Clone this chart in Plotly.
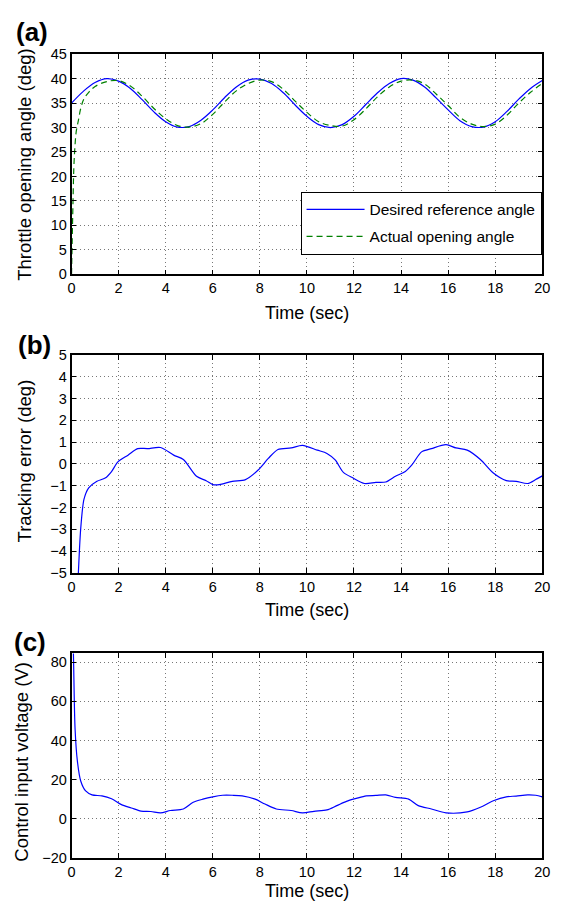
import plotly.graph_objects as go

# ---------------- data ----------------
t_ref = [0, 0.5, 1, 1.5, 2, 2.5, 3, 3.5, 4, 4.5, 5, 5.5, 6, 6.5, 7, 7.5, 8, 8.5, 9, 9.5,
         10, 10.5, 11, 11.5, 12, 12.5, 13, 13.5, 14, 14.5, 15, 15.5, 16, 16.5, 17, 17.5,
         18, 18.5, 19, 19.5, 20]
desired_angle = [35.0, 37.4, 39.2, 40.0, 39.5, 38.0, 35.7, 33.2, 31.2, 30.1, 30.2, 31.5,
                 33.6, 36.1, 38.3, 39.7, 39.9, 39.0, 37.1, 34.6, 32.3, 30.6, 30.0, 30.6,
                 32.3, 34.7, 37.1, 39.0, 40.0, 39.7, 38.3, 36.0, 33.6, 31.4, 30.2, 30.1,
                 31.2, 33.3, 35.8, 38.0, 39.6]

t_act = [0, 0.05, 0.1, 0.15, 0.2, 0.29, 0.39, 0.53, 0.73, 1.0, 1.5, 2, 2.5, 3, 3.5, 4,
         4.5, 5, 5.5, 6, 6.5, 7, 7.5, 8, 8.5, 9, 9.5, 10, 10.5, 11, 11.5, 12, 12.5, 13,
         13.5, 14, 14.5, 15, 15.5, 16, 16.5, 17, 17.5, 18, 18.5, 19, 19.5, 20]
actual_angle = [0.0, 12.0, 22.0, 26.5, 29.2, 31.4, 33.9, 35.9, 37.2, 38.4, 39.4, 39.6,
                38.5, 36.4, 33.9, 31.8, 30.4, 30.1, 30.8, 32.7, 35.2, 37.5, 39.0, 39.7,
                39.4, 37.8, 35.4, 33.1, 31.2, 30.4, 30.3, 31.6, 33.8, 36.3, 38.3, 39.5,
                39.7, 38.9, 36.8, 34.5, 32.1, 30.7, 30.2, 30.7, 32.5, 35.0, 37.2, 39.0]

t_err = [0, 0.1, 0.2, 0.29, 0.39, 0.53, 0.73, 1.08, 1.43, 1.7, 1.98, 2.4, 2.81, 3.23,
         3.78, 4.34, 4.75, 5.31, 5.72, 6.0, 6.28, 6.83, 7.39, 7.94, 8.36, 8.77, 9.33,
         9.81, 10.44, 10.85, 11.2, 11.55, 11.96, 12.45, 12.93, 13.35, 13.76, 14.18,
         14.46, 14.87, 15.29, 15.91, 16.33, 16.81, 17.37, 17.92, 18.47, 18.89, 19.38,
         19.72, 20]
tracking_error = [-35.0, -13.5, -7.2, -5.0, -2.97, -1.62, -1.1, -0.8, -0.65, -0.35, 0.1,
                  0.4, 0.7, 0.7, 0.75, 0.4, 0.2, -0.57, -0.77, -0.95, -0.95, -0.8, -0.72,
                  -0.27, 0.25, 0.66, 0.73, 0.85, 0.63, 0.48, 0.18, -0.39, -0.65, -0.9,
                  -0.85, -0.83, -0.57, -0.35, -0.05, 0.55, 0.7, 0.88, 0.73, 0.63, 0.2,
                  -0.42, -0.77, -0.8, -0.9, -0.72, -0.55]

t_u = [0, 0.08, 0.15, 0.25, 0.39, 0.6, 0.87, 1.29, 1.7, 2.12, 2.54, 2.95, 3.37, 3.78,
       4.2, 4.75, 5.17, 5.58, 6.0, 6.42, 6.83, 7.25, 7.8, 8.22, 8.7, 9.33, 9.81, 10.3,
       10.85, 11.27, 11.68, 12.1, 12.52, 12.93, 13.35, 13.76, 14.32, 14.73, 15.29, 15.91,
       16.81, 17.37, 17.92, 18.47, 18.89, 19.38, 19.72, 20]
control_voltage = [120, 84.6, 46, 29.3, 19.3, 14.2, 12.2, 11.7, 10.2, 7.2, 5.5, 3.9, 3.7,
                   3.0, 4.2, 5.0, 8.4, 10.0, 11.2, 12.0, 12.0, 11.7, 10.0, 7.5, 5.0, 4.2,
                   3.0, 3.8, 4.5, 6.7, 8.9, 10.4, 11.7, 11.9, 12.2, 10.9, 10.0, 6.7, 5.0,
                   3.0, 3.5, 5.9, 9.2, 11.2, 11.6, 12.2, 12.0, 11.2]

x_ticks = [0, 2, 4, 6, 8, 10, 12, 14, 16, 18, 20]
ya_ticks = [0, 5, 10, 15, 20, 25, 30, 35, 40, 45]
yb_ticks = [-5, -4, -3, -2, -1, 0, 1, 2, 3, 4, 5]
yc_ticks = [-20, 0, 20, 40, 60, 80]

# ---------------- figure ----------------
W, H = 564, 913
FONT = "Liberation Sans, Arial, Helvetica, sans-serif"
BLUE = "#0000ff"
GREEN = "#008000"

def px_x(p):
    return p / W

def px_y(p):
    return 1 - p / H

fig = go.Figure()
fig.add_trace(go.Scatter(x=t_ref, y=desired_angle, mode="lines", name="Desired reference angle",
                         line=dict(color=BLUE, width=1.2, shape="spline"),
                         xaxis="x", yaxis="y", legendgroup="g1"))
fig.add_trace(go.Scatter(x=t_act, y=actual_angle, mode="lines", name="Actual opening angle",
                         line=dict(color=GREEN, width=1.2, dash="6px,4px", shape="spline"),
                         xaxis="x", yaxis="y", legendgroup="g2"))
fig.add_trace(go.Scatter(x=t_err, y=tracking_error, mode="lines", showlegend=False,
                         line=dict(color=BLUE, width=1.2, shape="spline", smoothing=0.8),
                         xaxis="x2", yaxis="y2"))
fig.add_trace(go.Scatter(x=t_u, y=control_voltage, mode="lines", showlegend=False,
                         line=dict(color=BLUE, width=1.2, shape="spline", smoothing=0.8),
                         xaxis="x3", yaxis="y3"))

xdom = [px_x(69), px_x(550)]
doms = {
    "a": [px_y(271), px_y(47)],
    "b": [px_y(575), px_y(353)],
    "c": [px_y(865), px_y(657)],
}

common = dict(showline=True, linecolor="black", linewidth=1.5, mirror="ticks",
              ticks="inside", ticklen=5, tickwidth=1, tickcolor="black",
              showgrid=True, gridcolor="#777777", gridwidth=1, griddash="1px,3px",
              zeroline=False, tickfont=dict(family=FONT, size=14.5, color="black"))

def xax(anchor):
    return dict(domain=xdom, range=[0, 20], tickmode="array", tickvals=x_ticks,
                anchor=anchor, **common)

fig.update_layout(
    width=W, height=H,
    margin=dict(l=0, r=0, t=0, b=0),
    paper_bgcolor="white", plot_bgcolor="white",
    font=dict(family=FONT, color="black"),
    xaxis=xax("y"),
    xaxis2=xax("y2"),
    xaxis3=xax("y3"),
    yaxis=dict(domain=doms["a"], range=[0, 45], tickmode="array", tickvals=ya_ticks,
               anchor="x", **common),
    yaxis2=dict(domain=doms["b"], range=[-5, 5], tickmode="array", tickvals=yb_ticks,
                anchor="x2", **common),
    yaxis3=dict(domain=doms["c"], range=[-20, 84.5], tickmode="array", tickvals=yc_ticks,
                anchor="x3", **common),
    showlegend=True,
    legend=dict(x=px_x(303), y=px_y(187), xanchor="left", yanchor="top",
                bgcolor="white", bordercolor="black", borderwidth=1,
                font=dict(family=FONT, size=15.5, color="black"),
                itemwidth=58, tracegroupgap=4),
)

ann = []
# panel labels
for txt, cx, cy in [("(a)", 29, 24), ("(b)", 31, 343), ("(c)", 27, 645)]:
    ann.append(dict(text="<b>%s</b>" % txt, x=px_x(cx), y=px_y(cy), xref="paper", yref="paper",
                    xanchor="center", yanchor="middle", showarrow=False,
                    font=dict(family=FONT, size=26, color="black")))
# x titles
for cy in [310, 613, 899]:
    ann.append(dict(text="Time (sec)", x=px_x(309.5), y=px_y(cy), xref="paper", yref="paper",
                    xanchor="center", yanchor="middle", showarrow=False,
                    font=dict(family=FONT, size=18, color="black")))
# y titles
for txt, cx, cy in [("Throttle opening angle (deg)", 21, 160),
                    ("Tracking error (deg)", 21, 461),
                    ("Control input voltage (V)", 17.5, 767)]:
    ann.append(dict(text=txt, x=px_x(cx), y=px_y(cy), xref="paper", yref="paper",
                    xanchor="center", yanchor="middle", showarrow=False, textangle=-90,
                    font=dict(family=FONT, size=18.5, color="black")))
fig.update_layout(annotations=ann)

fig.write_html("out.html")
